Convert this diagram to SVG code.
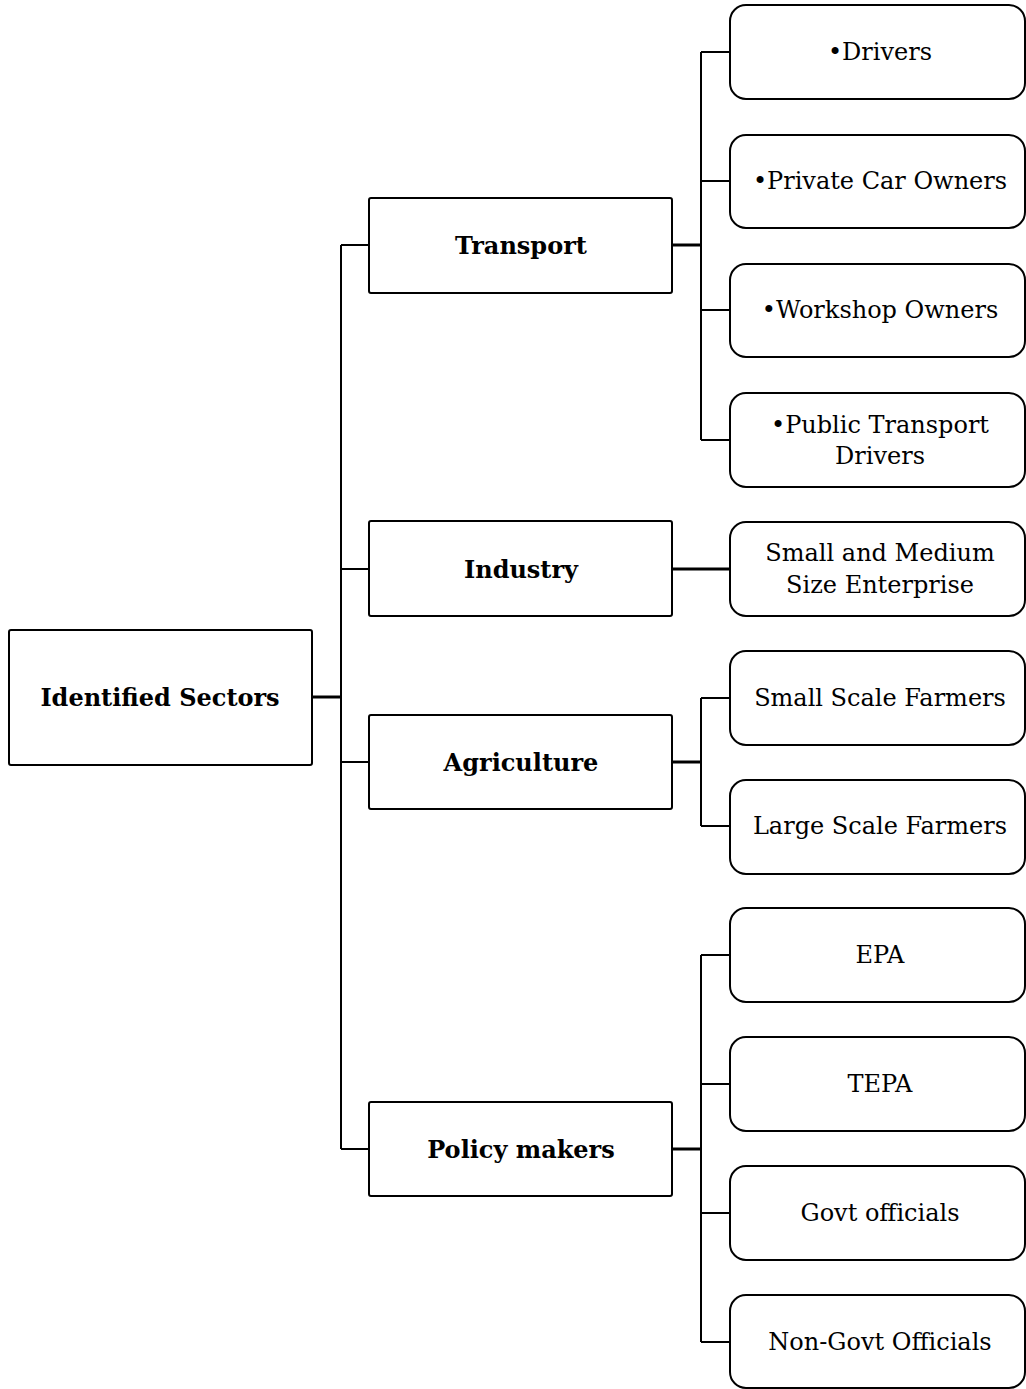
<svg xmlns="http://www.w3.org/2000/svg" width="1026" height="1389" viewBox="0 0 1026 1389">
  <style>
    .box { fill: #fff; stroke: #000; stroke-width: 2; }
    .wire { fill: none; stroke: #000; stroke-width: 2; }
    .thick { stroke-width: 3; }
    text { font-family: "DejaVu Serif", "Liberation Serif", serif; fill: #000; text-anchor: middle; dominant-baseline: central; }
    .b { font-weight: bold; font-size: 24px; }
    .n { font-size: 24px; }
  </style>
  <rect width="1026" height="1389" fill="#fff"/>

  <g id="connectors">
    <!-- root to trunk -->
    <path class="wire thick" d="M312 697H341"/>
    <path class="wire" d="M341 245V1149M341 245H369M341 569H369M341 762H369M341 1149H369"/>
    <!-- transport -->
    <path class="wire thick" d="M672 245H702"/>
    <path class="wire" d="M701 52V440M701 52H730M701 181H730M701 310H730M701 440H730"/>
    <!-- industry -->
    <path class="wire thick" d="M672 569H730"/>
    <!-- agriculture -->
    <path class="wire thick" d="M672 762H702"/>
    <path class="wire" d="M701 698V826M701 698H730M701 826H730"/>
    <!-- policy makers -->
    <path class="wire thick" d="M672 1149H702"/>
    <path class="wire" d="M701 955V1342M701 955H730M701 1084H730M701 1213H730M701 1342H730"/>
  </g>

  <g id="root"><rect class="box" x="9" y="630" width="303" height="135" rx="2"/><text class="b" x="160" y="697">Identified Sectors</text></g>

  <g id="transport"><rect class="box" x="369" y="198" width="303" height="95" rx="2"/><text class="b" x="521" y="245">Transport</text></g>
  <g id="industry"><rect class="box" x="369" y="521" width="303" height="95" rx="2"/><text class="b" x="521" y="569">Industry</text></g>
  <g id="agriculture"><rect class="box" x="369" y="715" width="303" height="94" rx="2"/><text class="b" x="521" y="762">Agriculture</text></g>
  <g id="policy"><rect class="box" x="369" y="1102" width="303" height="94" rx="2"/><text class="b" x="521" y="1149">Policy makers</text></g>

  <g id="drivers"><rect class="box" x="730" y="5" width="295" height="94" rx="16"/><text class="n" x="880" y="52">•Drivers</text></g>
  <g id="private-car"><rect class="box" x="730" y="135" width="295" height="93" rx="16"/><text class="n" x="880" y="181">•Private Car Owners</text></g>
  <g id="workshop"><rect class="box" x="730" y="264" width="295" height="93" rx="16"/><text class="n" x="880" y="310">•Workshop Owners</text></g>
  <g id="public-transport"><rect class="box" x="730" y="393" width="295" height="94" rx="16"/><text class="n" x="880" y="425">•Public Transport</text><text class="n" x="880" y="456">Drivers</text></g>
  <g id="sme"><rect class="box" x="730" y="522" width="295" height="94" rx="16"/><text class="n" x="880" y="553">Small and Medium</text><text class="n" x="880" y="585">Size Enterprise</text></g>
  <g id="small-farmers"><rect class="box" x="730" y="651" width="295" height="94" rx="16"/><text class="n" x="880" y="698">Small Scale Farmers</text></g>
  <g id="large-farmers"><rect class="box" x="730" y="780" width="295" height="94" rx="16"/><text class="n" x="880" y="826">Large Scale Farmers</text></g>
  <g id="epa"><rect class="box" x="730" y="908" width="295" height="94" rx="16"/><text class="n" x="880" y="955">EPA</text></g>
  <g id="tepa"><rect class="box" x="730" y="1037" width="295" height="94" rx="16"/><text class="n" x="880" y="1084">TEPA</text></g>
  <g id="govt"><rect class="box" x="730" y="1166" width="295" height="94" rx="16"/><text class="n" x="880" y="1213">Govt officials</text></g>
  <g id="non-govt"><rect class="box" x="730" y="1295" width="295" height="93" rx="16"/><text class="n" x="880" y="1342">Non-Govt Officials</text></g>
</svg>
